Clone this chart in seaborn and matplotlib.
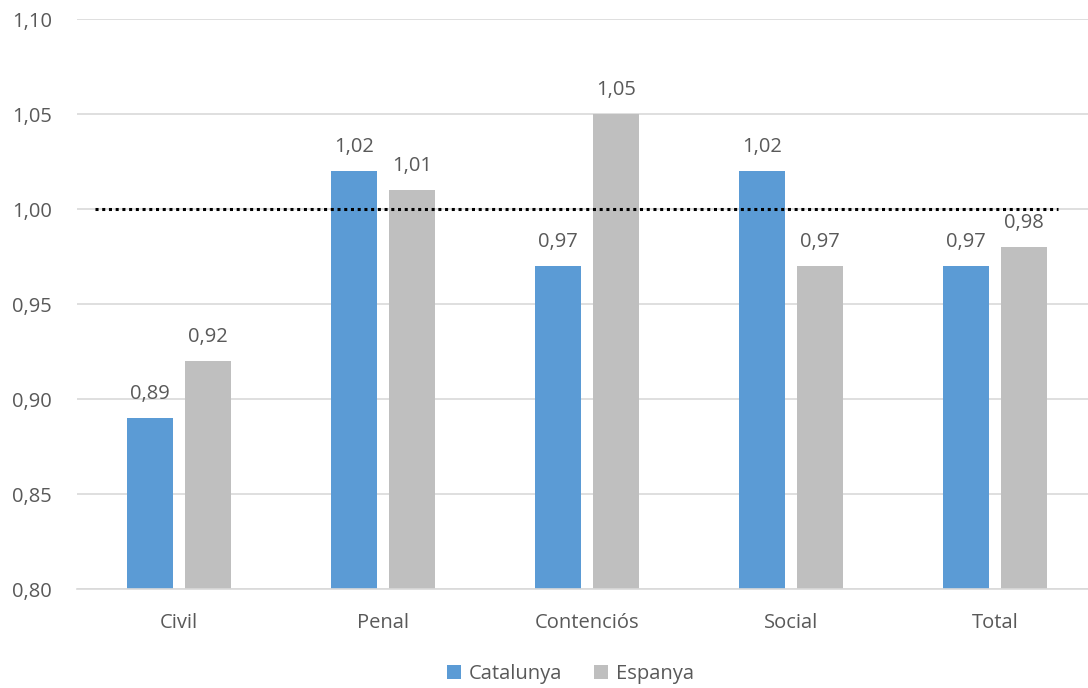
import numpy as np
import pandas as pd
import seaborn as sns
import matplotlib.pyplot as plt
from matplotlib.ticker import FuncFormatter

# =============================================================================
categories = ["Civil", "Penal", "Contenciós", "Social", "Total"]
catalunya = [0.89, 1.02, 0.97, 1.02, 0.97]
espanya = [0.92, 1.01, 1.05, 0.97, 0.98]
series_names = ["Catalunya", "Espanya"]
reference_value = 1.00
y_ticks = [0.80, 0.85, 0.90, 0.95, 1.00, 1.05, 1.10]

colors = ["#5B9BD5", "#BFBFBF"]
text_color = "#595959"

df = pd.DataFrame({
    "categoria": categories * 2,
    "serie": [series_names[0]] * len(categories) + [series_names[1]] * len(categories),
    "valor": catalunya + espanya,
})

# =============================================================================
sns.set_style("white")
plt.rcParams["font.family"] = ["Open Sans", "DejaVu Sans"]

fig = plt.figure(figsize=(10.88, 6.88), dpi=100)
ax = fig.add_axes([77 / 1088, 1 - 589 / 688, 1 - 77 / 1088, (589 - 19) / 688])

sns.barplot(data=df, x="categoria", y="valor", hue="serie", order=categories,
            hue_order=series_names, palette=colors, width=0.569, gap=0.207,
            saturation=1, linewidth=0, ax=ax, legend=True)

ax.set_ylim(y_ticks[0], y_ticks[-1])
ax.set_xlim(-0.5, 4.5 - 9 / 204)
ax.set_yticks(y_ticks)
ax.yaxis.set_major_formatter(FuncFormatter(lambda v, p: f"{v:.2f}".replace(".", ",")))
ax.grid(axis="y", color="#D9D9D9", linewidth=1.2)
ax.set_axisbelow(True)
for s in ["top", "right", "left"]:
    ax.spines[s].set_visible(False)
ax.spines["bottom"].set_color("#D9D9D9")
ax.spines["bottom"].set_linewidth(1.2)
ax.tick_params(axis="both", length=0, labelsize=14.5, labelcolor=text_color)
ax.tick_params(axis="y", pad=18)
ax.tick_params(axis="x", pad=17)
ax.set_xlabel("")
ax.set_ylabel("")

# data labels
for cont in ax.containers:
    ax.bar_label(cont, labels=[f"{v:.2f}".replace(".", ",") for v in cont.datavalues],
                 padding=10, fontsize=14.5, color=text_color)

# reference line
ax.hlines(reference_value, -0.41, 4.31, colors="black", linestyles=(0, (1, 1.2)),
          linewidth=2.2, zorder=3)

ax.legend(loc="upper center", bbox_to_anchor=(0.5 - 12 / 1011, -0.1), ncol=2,
          frameon=False, fontsize=14.5, handlelength=0.7, handleheight=0.7,
          handletextpad=0.4, columnspacing=1.6, labelcolor=text_color)

plt.savefig("out.png", dpi=100)
